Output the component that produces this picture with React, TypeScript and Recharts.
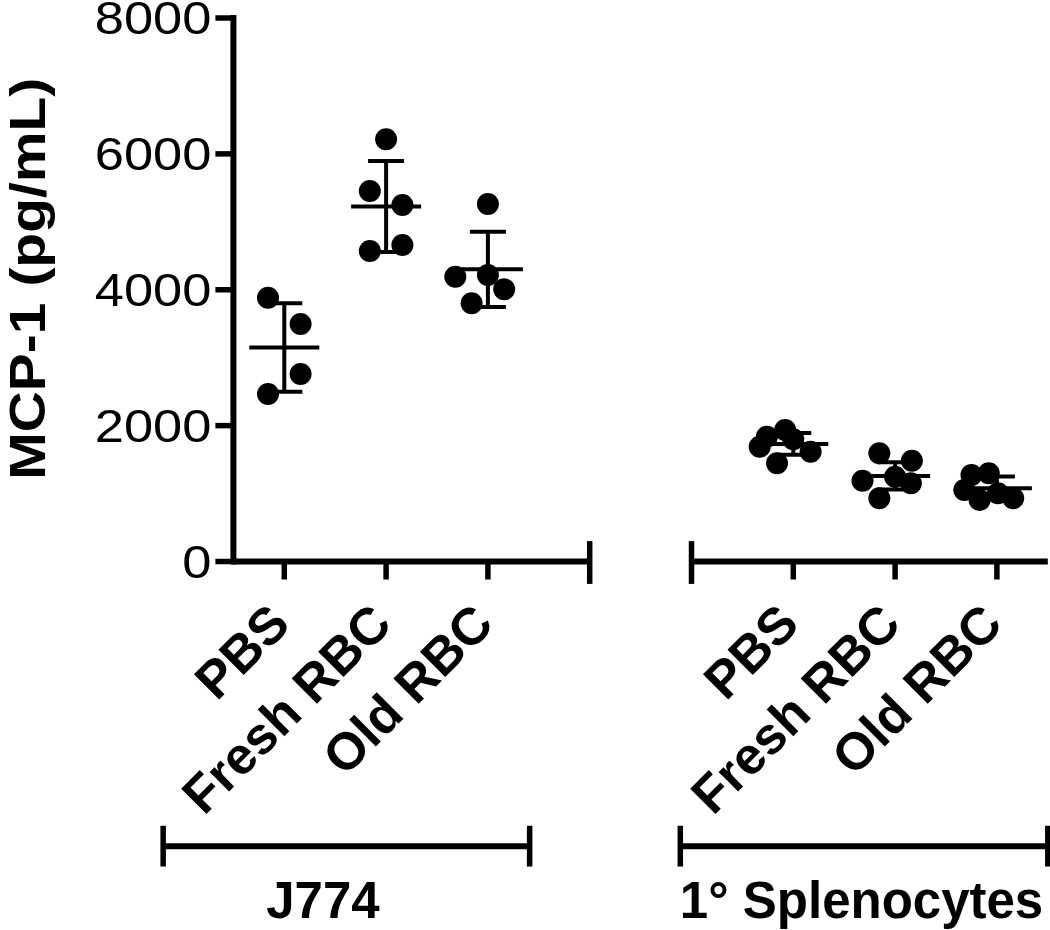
import React from 'react';
import { ComposedChart, Scatter, XAxis, YAxis, ReferenceLine, ErrorBar } from 'recharts';

// ---- data ----
const categories = ['PBS', 'Fresh RBC', 'Old RBC'];
const groups = ['J774', '1° Splenocytes'];
const categoryX = [0.5, 1.5, 2.5, 5.5, 6.5, 7.5];
const yTicks = [0, 2000, 4000, 6000, 8000];

const j774Pbs = [3882, 3496, 2760, 2466];
const j774PbsJitter = [-0.16, 0.16, 0.16, -0.16];
const j774Fresh = [6215, 5454, 5248, 4571, 4659];
const j774FreshJitter = [0, -0.16, 0.16, -0.16, 0.16];
const j774Old = [5262, 4192, 4217, 4007, 3801];
const j774OldJitter = [0, -0.32, 0, 0.16, -0.16];

const splPbs = [1936, 1837, 1690, 1446, 1616, 1800];
const splPbsJitter = [-0.08, -0.26, -0.33, -0.16, 0.17, 0];
const splFresh = [1593, 1484, 1189, 1248, 1151, 930];
const splFreshJitter = [-0.155, 0.165, -0.32, 0, 0.155, -0.155];
const splOld = [1273, 1298, 1052, 905, 930, 1004];
const splOldJitter = [-0.25, -0.08, -0.32, -0.17, 0.16, 0.01];

const means = [3150, 5225, 4300, 1730, 1260, 1080];
const sds = [650, 670, 555, 160, 200, 170];

// axis segments / group brackets (data units)
const axisSegments = [[0, 3.5], [4.5, 8]];
const brackets = [[-0.69, 2.91], [4.39, 8.0]];
const bracketY = -4190;
const capHalf = 300;

// ---- build ----
const valueSets = [j774Pbs, j774Fresh, j774Old, splPbs, splFresh, splOld];
const jitterSets = [j774PbsJitter, j774FreshJitter, j774OldJitter, splPbsJitter, splFreshJitter, splOldJitter];
const points: { x: number; y: number }[] = [];
valueSets.forEach((vals, i) => {
  vals.forEach((v, j) => points.push({ x: categoryX[i] + jitterSets[i][j], y: v }));
});
const meanData = means.map((m, i) => ({ x: categoryX[i], y: m, sd: sds[i] }));

const FONT = '"Liberation Sans", Arial, Helvetica, sans-serif';

const Dot = (p: any) => <circle cx={p.cx} cy={p.cy} r={11} fill="#000" />;
const MeanBar = (p: any) => (
  <line x1={p.cx - 35} x2={p.cx + 35} y1={p.cy} y2={p.cy} stroke="#000" strokeWidth={4} />
);

const CatTick = (props: any) => {
  const { x, y, payload } = props;
  const idx = categoryX.indexOf(payload.value);
  const label = categories[(idx < 0 ? 0 : idx) % 3];
  return (
    <text
      transform={`translate(${x + 8},${y + 47}) rotate(-45)`}
      textAnchor="end"
      fontSize={52}
      fontWeight="bold"
      fontFamily={FONT}
      fill="#000"
    >
      {label}
    </text>
  );
};

const YTick = (props: any) => {
  const { x, y, payload } = props;
  return (
    <text
      transform={`translate(${x},${y}) scale(1.14,1)`}
      textAnchor="end"
      dy="0.355em"
      fontSize={46}
      fontFamily={FONT}
      fill="#000"
    >
      {payload.value}
    </text>
  );
};

const yLabel = (props: any) => {
  const vb = props.viewBox || { x: 0, y: 18, width: 233, height: 543 };
  const cx = (vb.x || 0) + 45;
  const cy = (vb.y || 0) + vb.height / 2 - 11;
  return (
    <text
      transform={`translate(${cx},${cy}) rotate(-90) scale(1.14,1)`}
      textAnchor="middle"
      fontSize={50}
      fontWeight="bold"
      fontFamily={FONT}
      fill="#000"
    >
      MCP-1 (pg/mL)
    </text>
  );
};

const groupLabelDx = [-23.5, -2.5];
const makeGroupLabel = (i: number) => (props: any) => {
  const vb = props.viewBox || { x: 0, y: 0, width: 0, height: 0 };
  const cx = (vb.x || 0) + (vb.width || 0) / 2 + groupLabelDx[i];
  const by = (vb.y || 0) + 72;
  return (
    <text x={cx} y={by} textAnchor="middle" fontSize={51} fontWeight="bold" fontFamily={FONT} fill="#000">
      {groups[i]}
    </text>
  );
};

const AXW = 6;
const TKW = 5.5;

export default function App() {
  return (
    <div style={{ position: 'absolute', left: 0, top: 0, width: 1050, height: 930, background: '#fff' }}>
      <ComposedChart width={1050} height={930} margin={{ top: 18, right: 2.2, bottom: 0, left: 0 }}>
        <XAxis
          type="number"
          dataKey="x"
          domain={[0, 8]}
          ticks={categoryX}
          interval={0}
          axisLine={false}
          tickLine={{ stroke: '#000', strokeWidth: TKW }}
          tickSize={18}
          tickMargin={0}
          height={368.5}
          tick={<CatTick />}
        />
        <YAxis
          type="number"
          dataKey="y"
          domain={[0, 8000]}
          ticks={yTicks}
          interval={0}
          width={233.4}
          axisLine={{ stroke: '#000', strokeWidth: AXW, strokeLinecap: 'square' }}
          tickLine={{ stroke: '#000', strokeWidth: TKW }}
          tickSize={18}
          tickMargin={4}
          tick={<YTick />}
          label={yLabel}
        />
        {axisSegments.map((s, i) => (
          <ReferenceLine
            key={'ax' + i}
            ifOverflow="visible"
            segment={[{ x: s[0], y: 0 }, { x: s[1], y: 0 }]}
            stroke="#000"
            strokeWidth={AXW}
          />
        ))}
        <ReferenceLine
          ifOverflow="visible"
          segment={[{ x: axisSegments[0][1], y: -capHalf - 30 }, { x: axisSegments[0][1], y: capHalf }]}
          stroke="#000"
          strokeWidth={TKW}
        />
        <ReferenceLine
          ifOverflow="visible"
          segment={[{ x: axisSegments[1][0], y: -capHalf - 30 }, { x: axisSegments[1][0], y: capHalf }]}
          stroke="#000"
          strokeWidth={TKW}
        />
        {brackets.map((b, i) => (
          <ReferenceLine
            key={'br' + i}
            ifOverflow="visible"
            segment={[{ x: b[0], y: bracketY }, { x: b[1], y: bracketY }]}
            stroke="#000"
            strokeWidth={AXW}
            label={makeGroupLabel(i)}
          />
        ))}
        {brackets.map((b, i) =>
          b.map((bx, k) => (
            <ReferenceLine
              key={'bc' + i + '-' + k}
              ifOverflow="visible"
              segment={[{ x: bx, y: bracketY - capHalf }, { x: bx, y: bracketY + capHalf }]}
              stroke="#000"
              strokeWidth={TKW}
            />
          ))
        )}
        <Scatter data={meanData} dataKey="y" shape={MeanBar} isAnimationActive={false}>
          <ErrorBar dataKey="sd" direction="y" width={18} stroke="#000" strokeWidth={4} isAnimationActive={false} />
        </Scatter>
        <Scatter data={points} dataKey="y" shape={Dot} fill="#000" isAnimationActive={false} />
      </ComposedChart>
    </div>
  );
}
